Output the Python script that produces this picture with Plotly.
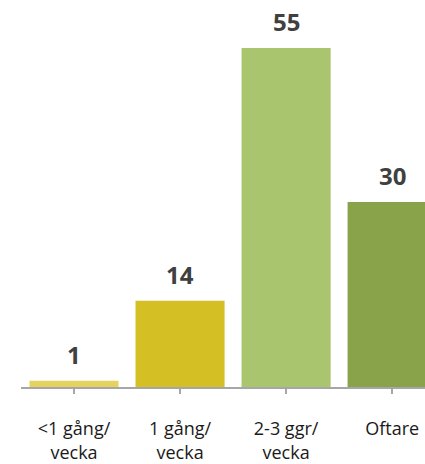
"""
Frequency bar chart (times per week)
"""

import plotly.graph_objects as go

# Data
categories = ['<1 gång/<br>vecka', '1 gång/<br>vecka', '2-3 ggr/<br>vecka', 'Oftare']
values = [1, 14, 55, 30]
bar_colors = ['#E6D35F', '#D4BF25', '#A9C56D', '#88A34A']

fig = go.Figure()

fig.add_trace(
    go.Bar(
        x=list(range(len(categories))),
        y=values,
        marker=dict(color=bar_colors, line=dict(width=0)),
        width=0.84,
        hoverinfo='skip'
    )
)

# Value labels above bars
for i, v in enumerate(values):
    fig.add_annotation(
        x=i, y=v, text=f"<b>{v}</b>",
        showarrow=False, yanchor='bottom', yshift=8,
        font=dict(family='Open Sans', size=24, color='#404040')
    )

fig.update_xaxes(
    tickmode='array',
    tickvals=list(range(len(categories))),
    ticktext=categories,
    range=[-0.5, 3.31],
    showline=True, linecolor='#A6A6A6', linewidth=1.5,
    ticks='outside', tickson='boundaries', ticklen=5,
    tickcolor='#A6A6A6', tickwidth=1.5,
    ticklabelstandoff=20,
    showgrid=False, zeroline=False,
    tickfont=dict(family='Open Sans', size=18, color='#1a1a1a')
)
fig.update_yaxes(
    range=[0, 61.16],
    visible=False, showgrid=False, zeroline=False
)

fig.update_layout(
    width=425, height=464,
    margin=dict(l=21, r=0, t=10, b=77, autoexpand=False),
    plot_bgcolor='white', paper_bgcolor='white',
    showlegend=False,
    bargap=0.16
)

# drop the default 8px body margin so the figure fills the window
fig.write_html(
    "out.html",
    config={'displayModeBar': False},
    post_script="document.body.style.margin='0';document.body.style.overflow='hidden';"
)
